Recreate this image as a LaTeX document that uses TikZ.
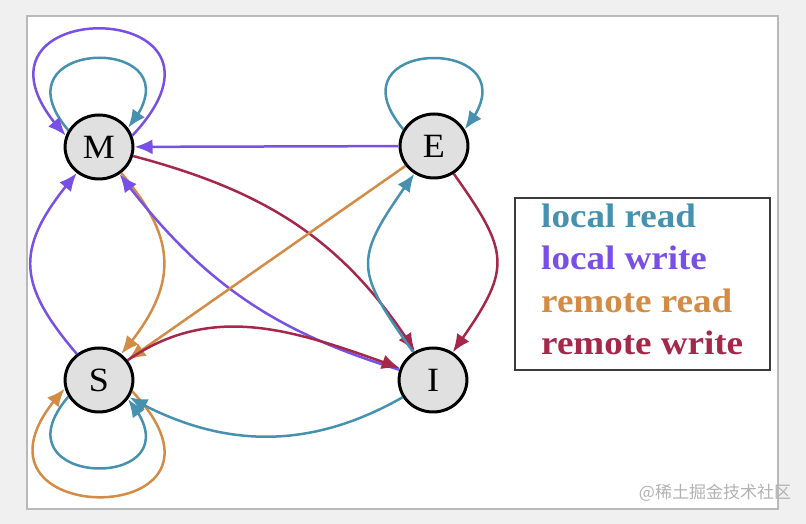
\documentclass[tikz,border=0pt]{standalone}
\usepackage{fontspec}
\setmainfont{Liberation Serif}
\newfontfamily\cjk{Noto Sans CJK SC}
\usetikzlibrary{arrows.meta,bending}
\definecolor{lrc}{RGB}{70,145,175}
\definecolor{lwc}{RGB}{120,80,230}
\definecolor{rrc}{RGB}{210,140,70}
\definecolor{rwc}{RGB}{165,40,75}
\definecolor{nodefill}{RGB}{224,224,224}
\definecolor{bgc}{RGB}{240,240,240}
\definecolor{framec}{RGB}{185,185,185}
\definecolor{boxc}{RGB}{60,60,60}
\tikzset{
  st/.style={circle, draw=black, line width=3pt, fill=nodefill, minimum size=64pt, inner sep=0pt, xscale=1.06, font=\fontsize{34}{34}\selectfont},
  conn/.style={line width=2.5pt, -{Latex[length=18pt,width=15pt]}},
  lr/.style={conn, draw=lrc},
  lw/.style={conn, draw=lwc},
  rr/.style={conn, draw=rrc},
  rw/.style={conn, draw=rwc},
  legtext/.style={anchor=base west, inner sep=0pt, xscale=1.09, font=\fontsize{34}{34}\selectfont\bfseries}
}
\begin{document}
\begin{tikzpicture}[x=1pt,y=1pt]
\fill[bgc] (0,0) rectangle (806,524);
\useasboundingbox (0,0) rectangle (806,524);
\draw[framec, line width=2pt, fill=white] (27,15) rectangle (778,508);
% nodes
\node[st] (M) at (99,377) {M};
\node[st] (E) at (434,378) {E};
\node[st] (S) at (99,144) {S};
\node[st] (I) at (433,144) {I};
% self loops
\draw[lr] (M.150) .. controls +(-80,95) and +(80,95) .. (M.35);
\draw[lw] (M.20) .. controls +(134,143) and +(-134,143) .. (M.160);
\draw[lr] (E.150) .. controls +(-80,95) and +(80,95) .. (E.30);
\draw[lr] (S.210) .. controls +(-80,-94) and +(80,-94) .. (S.325);
\draw[rr] (S.-20) .. controls +(134,-143) and +(-134,-143) .. (S.195);
% edges
\draw[lw] (E) -- (M);
\draw[rw] (M) to[out=-15,in=122] (I);
\draw[rr] (M) to[out=-50,in=50,looseness=1.25] (S);
\draw[lw] (S) to[out=130,in=-130,looseness=1.35] (M);
\draw[lw] (I) to[bend left=18] (M);
\draw[rr] (E) -- (S);
\draw[lr] (I) to[out=125,in=-125,looseness=1.5] (E);
\draw[rw] (E) to[out=-55,in=55,looseness=1.45] (I);
\draw[rw] (S) to[out=35,in=160] (I);
\draw[lr] (I) to[out=-150,in=-30] (S);
% legend
\draw[boxc, line width=2pt] (515,326) rectangle (770,154);
\node[legtext, text=lrc] (t1) at (541,296) {local read};
\node[legtext, text=lwc] (t2) at (541,254) {local write};
\node[legtext, text=rrc] (t3) at (541,211) {remote read};
\node[legtext, text=rwc] (t4) at (541,169) {remote write};
% watermark
\node[text=black!30, font=\cjk\fontsize{17}{17}\selectfont, anchor=center, inner sep=0pt] (wm) at (715,31) {@稀土掘金技术社区};
\end{tikzpicture}
\end{document}
